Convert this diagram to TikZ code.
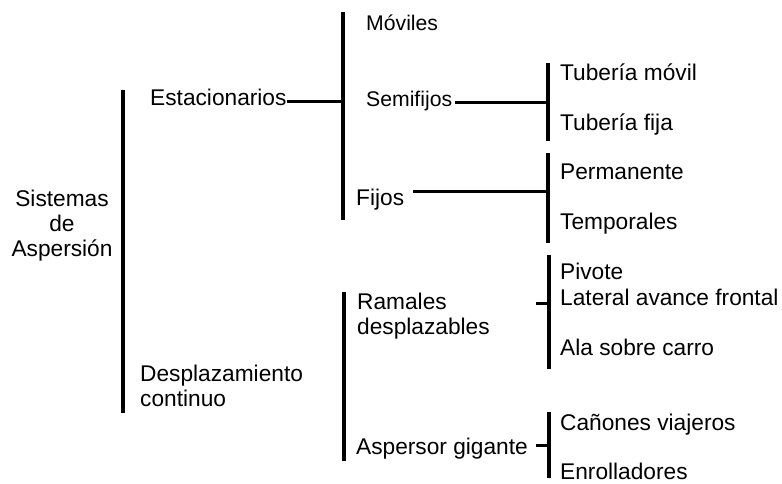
\documentclass[tikz,border=0pt]{standalone}
\usepackage{fontspec}
\setmainfont{Liberation Sans}
\begin{document}
\begin{tikzpicture}[x=1pt,y=-1pt,
  lbl/.style={anchor=base west,inner sep=0pt,font=\fontsize{22.7}{25}\selectfont},
  lblsm/.style={lbl,font=\fontsize{21.2}{25}\selectfont},
  multi/.style={inner sep=0pt,font=\fontsize{22.7}{25}\selectfont},
  brk/.style={line width=4pt},
  hln/.style={line width=3pt}]
\useasboundingbox (0,0) rectangle (782,483);

% texts
\node[multi,align=center,anchor=north] (root) at (62,190) {Sistemas\\de\\Aspersión};
\node[lbl] (estac) at (150,105) {Estacionarios};
\node[multi,align=left,anchor=north west] (desp) at (140,365) {Desplazamiento\\continuo};
\node[lblsm] (moviles) at (366,30) {Móviles};
\node[lblsm] (semi) at (366,106) {Semifijos};
\node[lbl] (fijos) at (356,205) {Fijos};
\node[lbl] (tmovil) at (560,80) {Tubería móvil};
\node[lbl] (tfija) at (560,130) {Tubería fija};
\node[lbl] (perm) at (560,179) {Permanente};
\node[lbl] (temp) at (560,229) {Temporales};
\node[multi,align=left,anchor=north west] (ramales) at (357,293) {Ramales\\desplazables};
\node[lbl] (pivote) at (560,279) {Pivote};
\node[lbl] (lateral) at (560,305) {Lateral avance frontal};
\node[lbl] (ala) at (560,355) {Ala sobre carro};
\node[lbl] (aspgig) at (356,454) {Aspersor gigante};
\node[lbl] (canones) at (560,430) {Cañones viajeros};
\node[lbl] (enroll) at (560,479) {Enrolladores};

% brackets
\coordinate (b0t) at (123,90);  \coordinate (b0b) at (123,413);
\coordinate (b1t) at (343,12);  \coordinate (b1b) at (343,220);
\coordinate (b2t) at (548,63);  \coordinate (b2b) at (548,141);
\coordinate (b3t) at (548,153); \coordinate (b3b) at (548,243);
\coordinate (b4t) at (344,292); \coordinate (b4b) at (344,461);
\coordinate (b5t) at (549,255); \coordinate (b5b) at (549,369);
\coordinate (b6t) at (549,412); \coordinate (b6b) at (549,478);
\foreach \b in {b0,b1,b2,b3,b4,b5,b6} \draw[brk] (\b t) -- (\b b);

% horizontal connectors
\coordinate (j1) at (343,101);
\draw[hln] (estac.east |- j1) -- (j1);
\coordinate (j2) at (548,102);
\draw[hln] ([xshift=3pt]semi.east |- j2) -- (j2);
\coordinate (j3) at (548,191);
\draw[hln] ([xshift=9pt]fijos.east |- j3) -- (j3);
\coordinate (s4) at (536,303); \coordinate (j4) at (549,303);
\draw[hln] (s4) -- (j4);
\coordinate (j5) at (549,445);
\draw[hln] ([xshift=8pt]aspgig.east |- j5) -- (j5);
\end{tikzpicture}
\end{document}
